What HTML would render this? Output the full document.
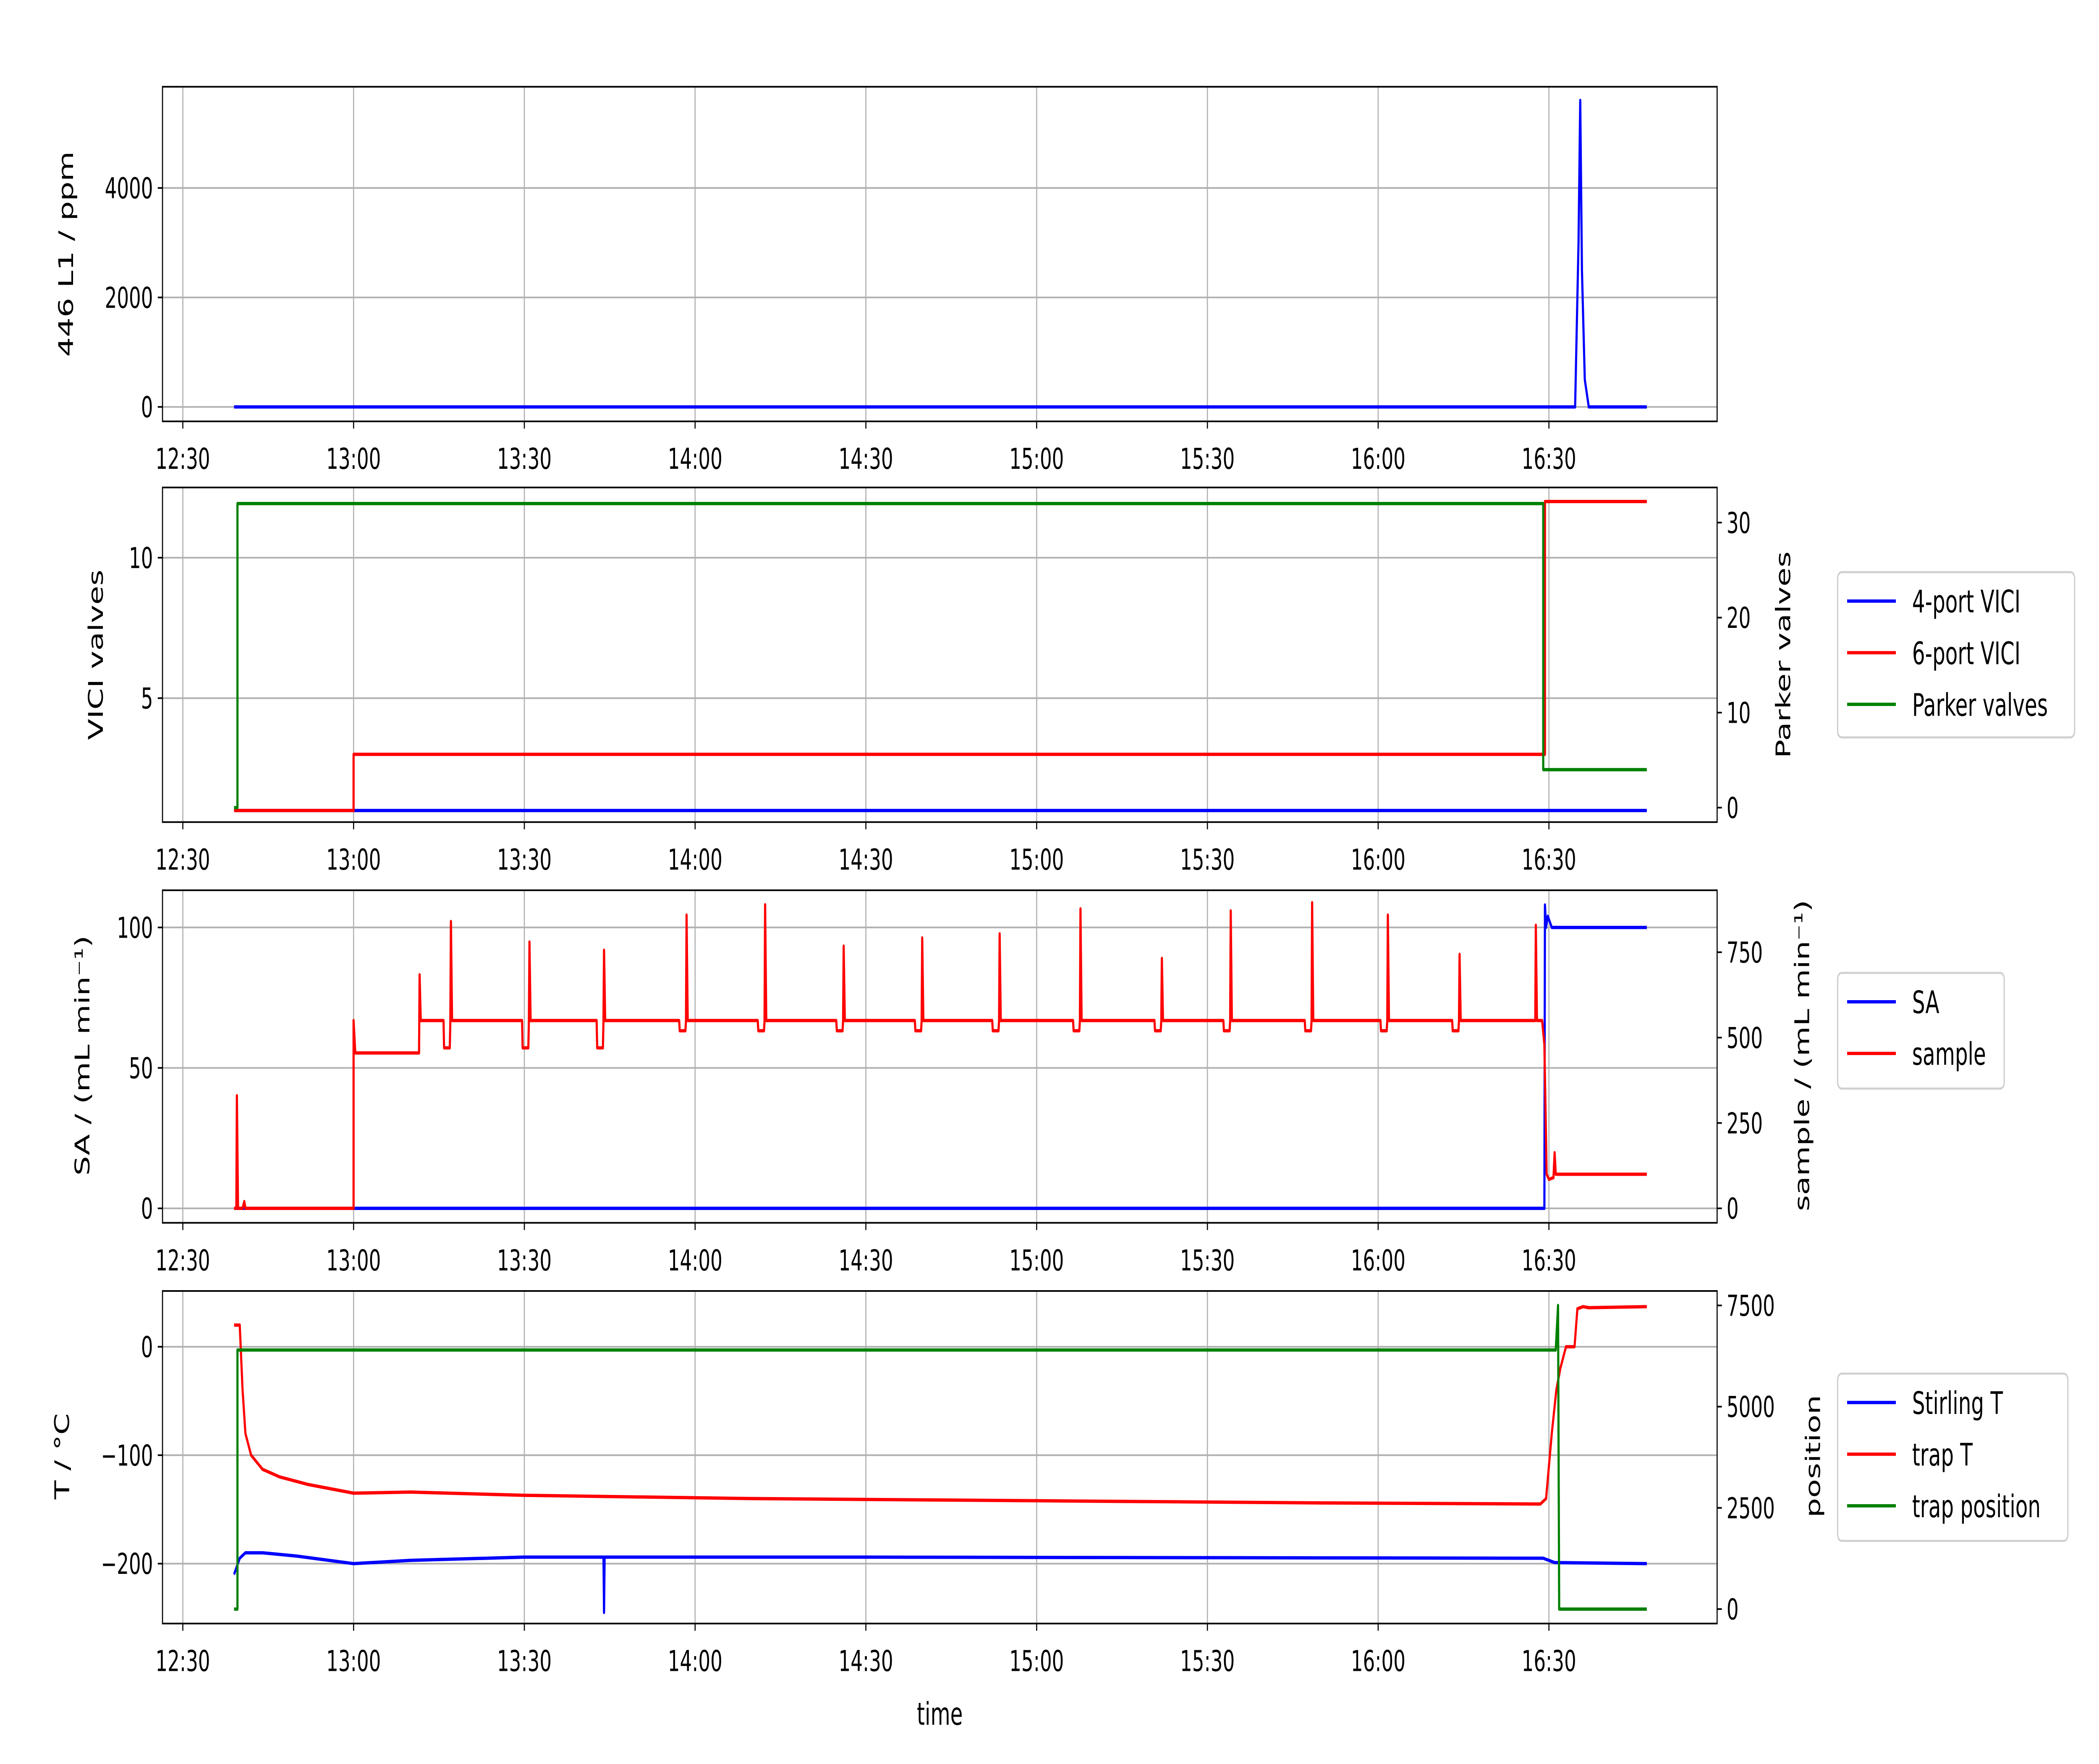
<!DOCTYPE html>
<html><head><meta charset="utf-8"><style>
html,body{margin:0;padding:0;background:#fff;width:100%;height:100%;overflow:hidden;}
svg{display:block;position:absolute;left:0;top:0;width:100vw;height:100vh;font-family:"DejaVu Sans","Liberation Sans",sans-serif;}
</style></head><body>
<svg id="fig" viewBox="0 0 1550 854" preserveAspectRatio="none" xmlns="http://www.w3.org/2000/svg"></svg>
<script>
// ---- data (minutes since 12:30) ----
const timeTicks=["12:30","13:00","13:30","14:00","14:30","15:00","15:30","16:00","16:30"];
const ppmT=[9,244.6,245.2,245.5,245.8,246.3,247,257.2];
const ppmV=[0,0,3000,5600,2500,500,0,0];
const vici4T=[9,257.2]; const vici4V=[1,1];
const vici6T=[9,30,30,239.3,239.3,257.2]; const vici6V=[1,1,3,3,12,12];
const parkerT=[9,9.6,9.6,239,239,257.2]; const parkerV=[0,0,32,32,4,4];
const saT=[9,239.2,239.3,239.5,239.8,240.5,257.2]; const saV=[0,0,108,100,104,100,100];
const spikeT=[41.6,47.1,60.9,74.0,88.5,102.3,116.1,129.9,143.5,157.7,172.0,184.1,198.4,211.7,224.3,237.7];
const spikeV=[684,840,780,756,859,889,768,792,804,877,732,871,895,859,744,829];
const dipV=[550,470,470,470,520,520,520,520,520,520,520,520,520,520,520,520];
const stirT=[9,10,11,14,20,30,40,60,73.9,74,74.1,120,239,241,257.2];
const stirV=[-210,-195,-190,-190,-193,-200,-197,-194,-194,-245,-194,-194,-195,-199,-200];
const trapT=[9,10,10.5,11,12,14,17,22,30,40,60,100,150,200,238.5,239.5,240.5,241.3,242,243,244.5,245,246,247,257.2];
const trapV=[20,20,-40,-80,-100,-113,-120,-127,-135,-134,-137,-140,-142,-144,-145,-140,-80,-40,-20,0,0,35,37,36,37];
const posT=[9,9.6,9.6,241.2,241.6,241.8,257.2]; const posV=[0,0,6400,6400,7500,0,0];

const NS="http://www.w3.org/2000/svg", svg=document.getElementById('fig');
function mk(tag,at,parent){const e=document.createElementNS(NS,tag);for(const k in at)e.setAttribute(k,at[k]);(parent||svg).appendChild(e);return e;}
const X0=120,X1=1268;
const xs=m=>135+m*126.1/30;
const panels=[{top:42,bot:204},{top:236,bot:398},{top:431,bot:592},{top:625,bot:786}];
function lin(v0,p0,v1,p1){return v=>p0+(v-v0)*(p1-p0)/(v1-v0);}
const y1=lin(0,197,4000,91);
const y2L=lin(0,406,10,270), y2R=lin(0,391,30,253);
const y3L=lin(0,585,100,449), y3R=lin(0,585,750,461);
const y4L=lin(0,652,-200,757), y4R=lin(0,779,7500,632);

function txt(s,x,y,anchor,name,rot,size){const t=mk('text',{x:x,y:y,'text-anchor':anchor||'middle','font-size':size||14,fill:'#000'});
 if(rot)t.setAttribute('transform','rotate(-90 '+x+' '+y+')');t.textContent=s;
 
 return t;}

panels.forEach((p,i)=>{
 const g=mk('g',{});
 
 
 timeTicks.forEach((s,k)=>{const x=xs(k*30);
  const gl=mk('line',{x1:x,x2:x,y1:p.top,y2:p.bot,stroke:'#b0b0b0','stroke-width':0.8},g);
  
  
  mk('line',{x1:x,x2:x,y1:p.bot,y2:p.bot+3.5,stroke:'#000','stroke-width':0.8},g);
  txt(s,x,p.bot+23,'middle','x-tick-label');
 });
});
function yaxis(p,scale,vals,labels,side){
 vals.forEach((v,k)=>{const y=scale(v);
  if(side==='L'){const gl=mk('line',{x1:X0,x2:X1,y1:y,y2:y,stroke:'#b0b0b0','stroke-width':0.8});
   
   
   mk('line',{x1:X0-3.5,x2:X0,y1:y,y2:y,stroke:'#000','stroke-width':0.8});
   txt(labels[k],X0-7,y+5,'end','y-tick-label');}
  else{mk('line',{x1:X1,x2:X1+3.5,y1:y,y2:y,stroke:'#000','stroke-width':0.8});
   txt(labels[k],X1+7,y+5,'start','y2-tick-label');}
 });
}
yaxis(panels[0],y1,[0,2000,4000],["0","2000","4000"],'L');
yaxis(panels[1],y2L,[5,10],["5","10"],'L');
yaxis(panels[1],y2R,[0,10,20,30],["0","10","20","30"],'R');
yaxis(panels[2],y3L,[0,50,100],["0","50","100"],'L');
yaxis(panels[2],y3R,[0,250,500,750],["0","250","500","750"],'R');
yaxis(panels[3],y4L,[0,-100,-200],["0","\u2212100","\u2212200"],'L');
yaxis(panels[3],y4R,[0,2500,5000,7500],["0","2500","5000","7500"],'R');

function series(T,V,ys,color,name){
 const d=T.map((t,k)=>(k?'L':'M')+xs(t).toFixed(2)+','+ys(V[k]).toFixed(2)).join('');
 const p=mk('path',{d:d,fill:'none',stroke:color,'stroke-width':1.6,'stroke-linejoin':'round'});
 
 
}
const smT=[9,9.4,9.5,9.7,10.5,10.8,11,11.2,30,30,30.3,41.5], smV=[0,0,330,0,0,20,0,0,0,550,455,455];
spikeT.forEach((t,k)=>{
 if(k===spikeT.length-1){smT.push(t-0.1,t,t+0.2,238.8,239.2,239.6,240,240.8,241,241.2,241.5,257.2);smV.push(550,829,550,550,480,100,85,90,163,100,100,100);return;}
 if(k>0){smT.push(t-1.3,t-1.2,t-0.2,t-0.1);smV.push(550,dipV[k],dipV[k],550);}
 smT.push(t,t+0.2,t+0.3);smV.push(spikeV[k],550,550);
});
series(ppmT,ppmV,y1,'#0000ff','ppm-line');
series(vici4T,vici4V,y2L,'#0000ff','vici4-line');
series(vici6T,vici6V,y2L,'#ff0000','vici6-line');
series(parkerT,parkerV,y2R,'#008000','parker-line');
series(saT,saV,y3L,'#0000ff','sa-line');
series(smT,smV,y3R,'#ff0000','sample-line');
series(stirT,stirV,y4L,'#0000ff','stirling-line');
series(trapT,trapV,y4L,'#ff0000','trap-t-line');
series(posT,posV,y4R,'#008000','trap-position-line');

panels.forEach((p,i)=>{const r=mk('rect',{x:X0,y:p.top,width:X1-X0,height:p.bot-p.top,fill:'none',stroke:'#000','stroke-width':0.8});
 
 });

txt('446 L1 / ppm',54,123,'middle','y-axis-title',true,15);
txt('VICI valves',76,317,'middle','y-axis-title',true,15);
txt('Parker valves',1322,317,'middle','y2-axis-title',true,15);
txt('SA / (mL min\u207B\u00B9)',66,511,'middle','y-axis-title',true,15);
txt('sample / (mL min\u207B\u00B9)',1336,511,'middle','y2-axis-title',true,15);
txt('T / \u00B0C',51,705,'middle','y-axis-title',true,15);
txt('position',1344,705,'middle','y2-axis-title',true,15);
txt('time',694,835,'middle','x-axis-title',false,15);

function legend(x,y,w,h,items){
 const g=mk('g',{});
 
 
 mk('rect',{x:x,y:y,width:w,height:h,rx:3,fill:'#fff',stroke:'#d0d0d0','stroke-width':1},g);
 items.forEach((it,k)=>{const yy=y+14+k*25;
  mk('line',{x1:x+7,x2:x+43,y1:yy,y2:yy,stroke:it[1],'stroke-width':1.6},g);
  const t=mk('text',{x:x+55,y:yy+5.5,'font-size':15,fill:'#000'},g);t.textContent=it[0];
  
  });
}
legend(1357,277,175,80,[["4-port VICI","#0000ff"],["6-port VICI","#ff0000"],["Parker valves","#008000"]]);
legend(1357,471,123,56,[["SA","#0000ff"],["sample","#ff0000"]]);
legend(1357,665,170,81,[["Stirling T","#0000ff"],["trap T","#ff0000"],["trap position","#008000"]]);
</script>
</body></html>
